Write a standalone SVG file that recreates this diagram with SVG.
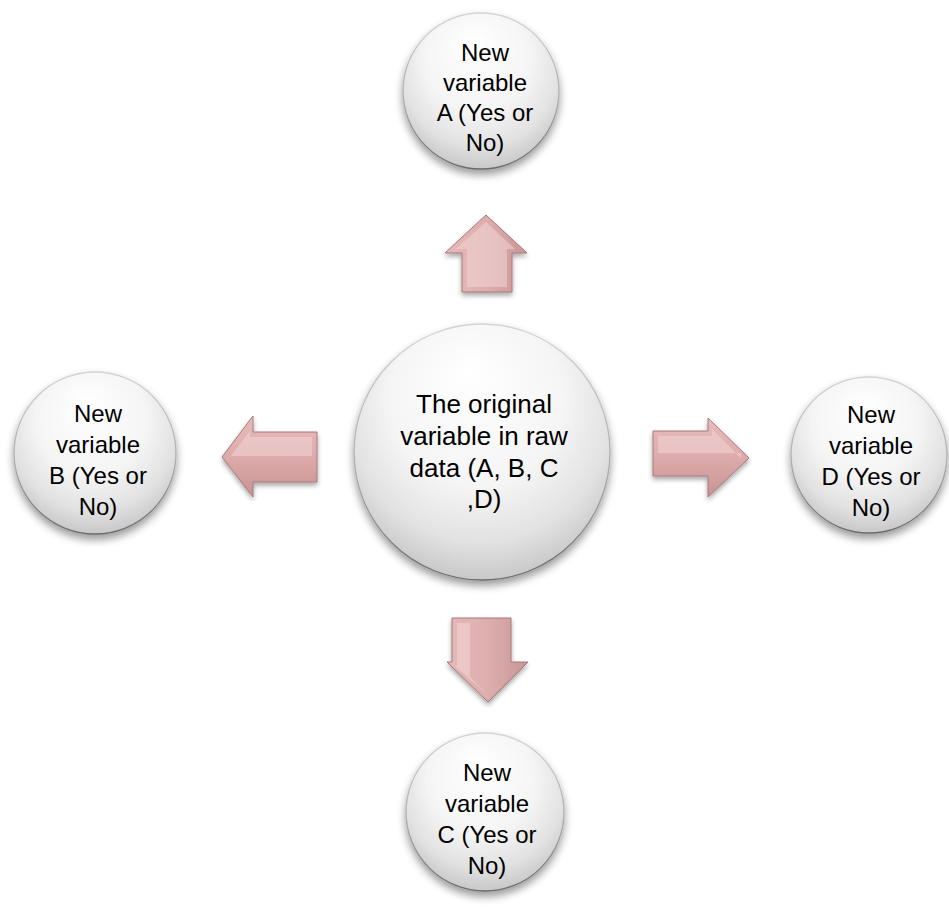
<svg xmlns="http://www.w3.org/2000/svg" width="949" height="911" viewBox="0 0 949 911">
<defs>
<radialGradient id="ball" cx="0.5" cy="0.38" r="0.62" fx="0.45" fy="0.18">
<stop offset="0" stop-color="#ffffff"/>
<stop offset="0.55" stop-color="#f5f5f5"/>
<stop offset="0.82" stop-color="#e2e2e2"/>
<stop offset="1" stop-color="#c8c8c8"/>
</radialGradient>
<linearGradient id="rim" x1="0" y1="0" x2="0" y2="1">
<stop offset="0" stop-color="#d4d4d4"/>
<stop offset="0.6" stop-color="#a8a8a8"/>
<stop offset="1" stop-color="#6a6a6a"/>
</linearGradient>
<linearGradient id="arrV" x1="0" y1="0" x2="1" y2="0">
<stop offset="0" stop-color="#e6b9b9"/>
<stop offset="0.5" stop-color="#ddaeae"/>
<stop offset="1" stop-color="#c99595"/>
</linearGradient>
<linearGradient id="arrH" x1="0" y1="0" x2="0" y2="1">
<stop offset="0" stop-color="#e8bcbc"/>
<stop offset="0.5" stop-color="#ddabab"/>
<stop offset="1" stop-color="#c79292"/>
</linearGradient>
<filter id="sh" x="-20%" y="-20%" width="140%" height="150%">
<feGaussianBlur in="SourceAlpha" stdDeviation="4"/>
<feOffset dy="5"/>
<feComponentTransfer><feFuncA type="linear" slope="0.4"/></feComponentTransfer>
<feMerge><feMergeNode/><feMergeNode in="SourceGraphic"/></feMerge>
</filter>
<filter id="sha" x="-20%" y="-20%" width="140%" height="150%">
<feGaussianBlur in="SourceAlpha" stdDeviation="2.5"/>
<feOffset dy="3"/>
<feComponentTransfer><feFuncA type="linear" slope="0.35"/></feComponentTransfer>
<feMerge><feMergeNode/><feMergeNode in="SourceGraphic"/></feMerge>
</filter>
</defs>
<style>
.ball{fill:url(#ball);stroke:url(#rim);stroke-width:1.3;filter:url(#sh)}
.t{font-family:"Liberation Sans",Arial,sans-serif;font-size:24px;fill:#000;text-anchor:middle}
.tc{font-family:"Liberation Sans",Arial,sans-serif;font-size:26px;fill:#000;text-anchor:middle}
.av{fill:url(#arrV);stroke:#a87878;stroke-width:1;filter:url(#sha)}
.ah{fill:url(#arrH);stroke:#a87878;stroke-width:1;filter:url(#sha)}
.hl{fill:#f3d6d6;opacity:0.55}
</style>
<rect width="949" height="911" fill="#ffffff"/>
<g id="connectors">
<g id="arrow-up">
<polygon class="av" points="486,215 527,253 512,253 512,292 462,292 462,253 445,253"/>
<polygon class="hl" points="486,222 515,249 507,249 507,287 467,287 467,249 456,249"/>
</g>
<g id="arrow-left">
<polygon class="ah" points="222,457 253,416 253,432 317,432 317,482 253,482 253,497"/>
<polygon class="hl" points="230,457 250,431 250,437 312,437 312,456 230,456"/>
</g>
<g id="arrow-right">
<polygon class="ah" points="749,458 708,418 708,431 653,431 653,476 708,476 708,497"/>
<polygon class="hl" points="741,458 712,429 712,436 658,436 658,453 741,453"/>
</g>
<g id="arrow-down">
<polygon class="av" points="488,702 528,662 511,662 511,618 452,618 452,662 447,662"/>
<polygon class="hl" points="488,695 470,677 470,623 457,623 457,666 455,666"/>
</g>
</g>
<g id="node-center">
<circle class="ball" cx="482" cy="452" r="128"/>
<text class="tc" x="484" y="413">The original</text>
<text class="tc" x="484" y="445">variable in raw</text>
<text class="tc" x="484" y="477">data (A, B, C</text>
<text class="tc" x="484" y="508">,D)</text>
</g>
<g id="node-a">
<circle class="ball" cx="481" cy="91" r="78"/>
<text class="t" x="485" y="61">New</text>
<text class="t" x="485" y="91">variable</text>
<text class="t" x="485" y="121">A (Yes or</text>
<text class="t" x="485" y="151">No)</text>
</g>
<g id="node-b">
<circle class="ball" cx="95" cy="453" r="81"/>
<text class="t" x="98" y="422">New</text>
<text class="t" x="98" y="453">variable</text>
<text class="t" x="98" y="484">B (Yes or</text>
<text class="t" x="98" y="515">No)</text>
</g>
<g id="node-d">
<circle class="ball" cx="869" cy="455" r="78"/>
<text class="t" x="871" y="423">New</text>
<text class="t" x="871" y="454">variable</text>
<text class="t" x="871" y="485">D (Yes or</text>
<text class="t" x="871" y="516">No)</text>
</g>
<g id="node-c">
<circle class="ball" cx="485" cy="812" r="79"/>
<text class="t" x="487" y="781">New</text>
<text class="t" x="487" y="812">variable</text>
<text class="t" x="487" y="843">C (Yes or</text>
<text class="t" x="487" y="874">No)</text>
</g>
</svg>
